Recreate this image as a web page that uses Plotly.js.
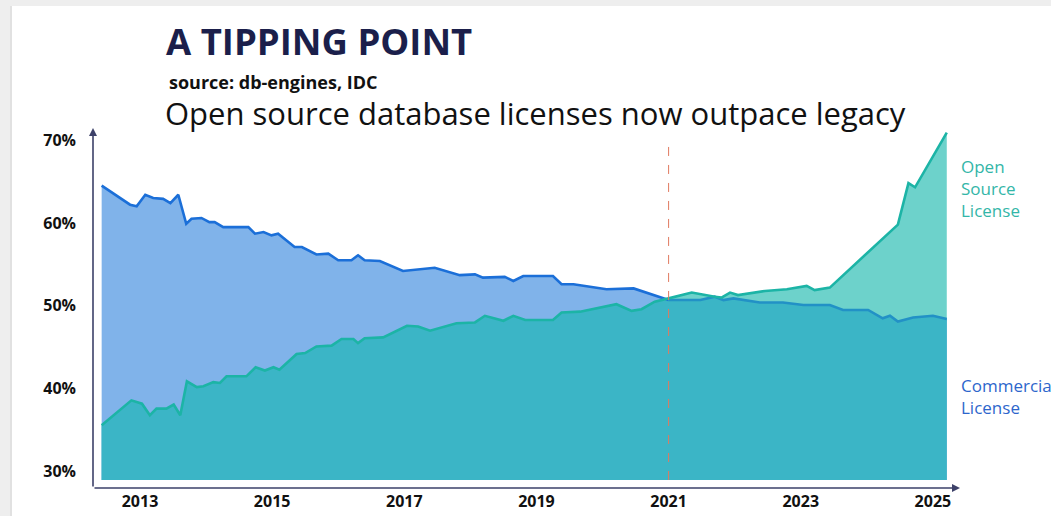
<!DOCTYPE html>
<html>
<head>
<meta charset="utf-8">
<script src="https://cdn.plot.ly/plotly-3.0.1.min.js"></script>
<style>html,body{margin:0;padding:0;background:#fff;overflow:hidden}#chart{width:1051px;height:516px}</style>
</head>
<body>
<div id="chart"></div>
<script>
// ---- data ----
const commercialYear = [2012.42,2012.85,2012.95,2013.08,2013.2,2013.35,2013.46,2013.58,2013.7,2013.78,2013.93,2014.05,2014.13,2014.26,2014.64,2014.74,2014.87,2014.99,2015.09,2015.34,2015.45,2015.67,2015.85,2016.0,2016.2,2016.3,2016.4,2016.63,2016.98,2017.46,2017.84,2018.07,2018.19,2018.52,2018.65,2018.8,2019.25,2019.38,2019.56,2020.06,2020.47,2020.92,2021.0,2021.48,2021.7,2021.83,2021.98,2022.38,2022.73,2023.04,2023.44,2023.64,2024.02,2024.24,2024.35,2024.47,2024.7,2025.0,2025.21];
const commercialShare = [64.5,62.2,62.0,63.4,63.0,62.9,62.4,63.4,59.9,60.5,60.6,60.1,60.1,59.5,59.5,58.7,58.9,58.5,58.7,57.1,57.1,56.2,56.3,55.5,55.5,56.1,55.5,55.4,54.2,54.6,53.7,53.8,53.4,53.5,53.0,53.6,53.6,52.6,52.6,52.0,52.1,50.9,50.7,50.7,51.1,50.7,50.9,50.4,50.4,50.1,50.1,49.5,49.5,48.5,48.8,48.1,48.6,48.8,48.4];
const openYear = [2012.42,2012.87,2013.03,2013.15,2013.25,2013.4,2013.51,2013.61,2013.71,2013.86,2013.96,2014.11,2014.21,2014.31,2014.61,2014.75,2014.89,2015.02,2015.11,2015.37,2015.5,2015.67,2015.9,2016.05,2016.23,2016.3,2016.4,2016.68,2017.04,2017.21,2017.39,2017.79,2018.07,2018.22,2018.5,2018.65,2018.83,2019.25,2019.38,2019.66,2020.21,2020.44,2020.59,2020.79,2021.0,2021.35,2021.7,2021.8,2021.93,2022.05,2022.46,2022.79,2023.09,2023.21,2023.44,2024.47,2024.63,2024.73,2025.21];
const openShare = [35.6,38.6,38.2,36.8,37.6,37.6,38.1,36.8,40.9,40.2,40.3,40.8,40.7,41.5,41.5,42.6,42.2,42.6,42.3,44.2,44.3,45.1,45.2,46.0,46.0,45.5,46.1,46.2,47.6,47.5,47.0,47.9,48.0,48.8,48.2,48.8,48.3,48.3,49.2,49.3,50.2,49.4,49.6,50.5,50.9,51.6,51.1,51.0,51.6,51.3,51.8,52.0,52.4,51.9,52.2,59.8,64.8,64.3,70.9];
const tippingYear = 2021;
const fillBase = 29;
const yearTicks = [2013,2015,2017,2019,2021,2023,2025];
const shareTicks = [30,40,50,60,70];
const shareTickLabels = ['30%','40%','50%','60%','70%'];
const seriesNames = ['Open<br>Source<br>License','Commercial<br>License'];

// ---- helpers ----
function area(xs, ys) {
  return {x: xs.concat([xs[xs.length-1], xs[0], xs[0]]), y: ys.concat([fillBase, fillBase, ys[0]])};
}
function part(xs, ys, test) {
  const ox = [], oy = [];
  xs.forEach((v, i) => { if (test(v)) { ox.push(v); oy.push(ys[i]); } });
  return {x: ox, y: oy};
}
const openA = area(openYear, openShare);
const commA = area(commercialYear, commercialShare);
const openPre = part(openYear, openShare, v => v < tippingYear);
const commPost = part(commercialYear, commercialShare, v => v >= tippingYear);
const overlap = area(openPre.x.concat(commPost.x), openPre.y.concat(commPost.y));
const commPre = part(commercialYear, commercialShare, v => v <= tippingYear);

const C_OPEN_FILL = '#6dd2cb', C_COMM_FILL = '#80b3ea', C_BOTH = '#3bb5c6';
const C_OPEN_LINE = '#1cb4a6', C_COMM_LINE = '#1b6fd8', C_COMM_LINE2 = '#2291c6';

const traces = [
  {x: openA.x, y: openA.y, type: 'scatter', mode: 'lines', fill: 'toself', fillcolor: C_OPEN_FILL, line: {width: 0}, hoverinfo: 'skip'},
  {x: commA.x, y: commA.y, type: 'scatter', mode: 'lines', fill: 'toself', fillcolor: C_COMM_FILL, line: {width: 0}, hoverinfo: 'skip'},
  {x: overlap.x, y: overlap.y, type: 'scatter', mode: 'lines', fill: 'toself', fillcolor: C_BOTH, line: {width: 0}, hoverinfo: 'skip'},
  {x: commPre.x, y: commPre.y, type: 'scatter', mode: 'lines', line: {color: C_COMM_LINE, width: 2.6}, name: 'Commercial'},
  {x: commPost.x, y: commPost.y, type: 'scatter', mode: 'lines', line: {color: C_COMM_LINE2, width: 2.6}, name: 'Commercial'},
  {x: openYear, y: openShare, type: 'scatter', mode: 'lines', line: {color: C_OPEN_LINE, width: 2.6}, name: 'Open Source'}
];

const FONT = '"Open Sans", "Noto Sans", sans-serif';
// plot area: x 93..960 px, y 128..488 px
const PX = px => (px - 93) / 867, PY = py => (488 - py) / 360;
const layout = {
  width: 1051, height: 516,
  margin: {l: 93, r: 91, t: 128, b: 28, pad: 0},
  paper_bgcolor: '#eeeeee', plot_bgcolor: 'rgba(0,0,0,0)',
  showlegend: false,
  font: {family: FONT, color: '#111'},
  title: {text: 'A TIPPING POINT', x: 166/1051, xref: 'container', xanchor: 'left', y: 1 - 42/516, yref: 'container', yanchor: 'middle',
          font: {family: FONT, size: 36.5, weight: 'bold', color: '#1b1f4b'}},
  xaxis: {range: [2012.289, 2025.41], showgrid: false, zeroline: false, showline: false, ticks: '',
          tickvals: yearTicks, ticktext: yearTicks.map(String), tickfont: {family: FONT, size: 16, weight: 'bold', color: '#111'}, ticklabelstandoff: 2},
  yaxis: {range: [28.03, 71.45], showgrid: false, zeroline: false, showline: false, ticks: '',
          tickvals: shareTicks, ticktext: shareTickLabels, tickfont: {family: FONT, size: 16, weight: 'bold', color: '#111'}, ticklabelstandoff: 16},
  shapes: [
    {type: 'rect', xref: 'paper', yref: 'paper', x0: PX(12), x1: PX(1060), y0: PY(530), y1: PY(6), fillcolor: '#ffffff', line: {width: 0}, layer: 'below'},
    {type: 'line', xref: 'paper', yref: 'paper', x0: PX(11), x1: PX(11), y0: PY(530), y1: PY(6), line: {color: '#dddddd', width: 1.5}, layer: 'below'},
    {type: 'line', xref: 'x', yref: 'y', x0: tippingYear, x1: tippingYear, y0: fillBase, y1: 69.6, line: {color: '#e07a5f', width: 1, dash: 'dash'}}
  ],
  annotations: [
    {xref: 'paper', yref: 'paper', x: 0, y: 1, ax: 0, ay: 360, axref: 'pixel', ayref: 'pixel', showarrow: true, arrowhead: 2, arrowsize: 1, arrowwidth: 1.6, arrowcolor: '#3d4169', text: ''},
    {xref: 'paper', yref: 'paper', x: 1, y: 0, ax: -867, ay: 0, axref: 'pixel', ayref: 'pixel', showarrow: true, arrowhead: 2, arrowsize: 1, arrowwidth: 1.6, arrowcolor: '#3d4169', text: ''},
    {xref: 'paper', yref: 'paper', x: PX(167), y: PY(82), xanchor: 'left', yanchor: 'middle', showarrow: false,
     text: 'source: db-engines, IDC', font: {family: FONT, size: 18, weight: 'bold', color: '#111'}},
    {xref: 'paper', yref: 'paper', x: PX(163), y: PY(113), xanchor: 'left', yanchor: 'middle', showarrow: false,
     text: 'Open source database licenses now outpace legacy', font: {family: FONT, size: 31, color: '#111'}},
    {xref: 'paper', yref: 'paper', x: PX(959), y: PY(188), xanchor: 'left', yanchor: 'middle', showarrow: false, align: 'left',
     text: seriesNames[0], font: {family: FONT, size: 17, color: '#33b6a8'}},
    {xref: 'paper', yref: 'paper', x: PX(959), y: PY(396), xanchor: 'left', yanchor: 'middle', showarrow: false, align: 'left',
     text: seriesNames[1], font: {family: FONT, size: 17, color: '#2d66cc'}}
  ]
};
Plotly.newPlot('chart', traces, layout, {displayModeBar: false, staticPlot: true});
</script>
</body>
</html>
